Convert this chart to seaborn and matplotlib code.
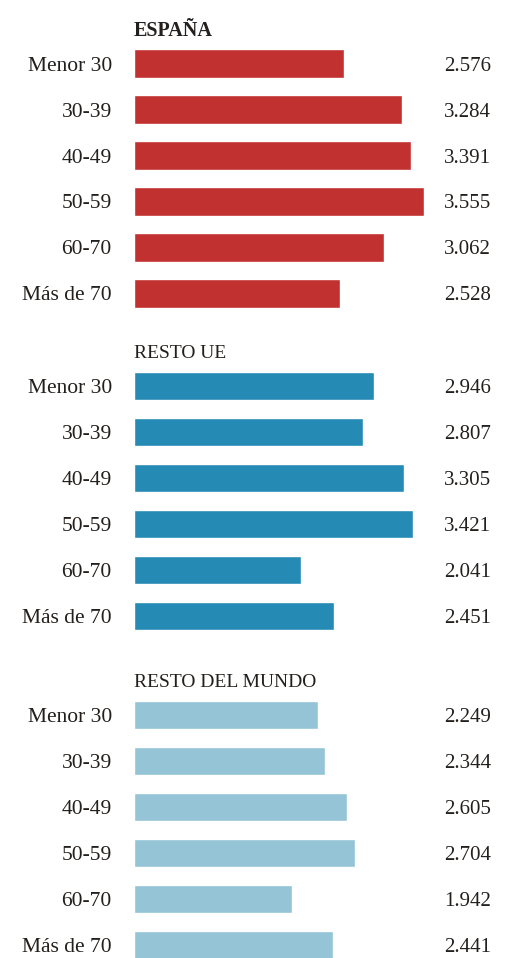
import matplotlib
matplotlib.use('Agg')
import matplotlib.pyplot as plt
import pandas as pd
import seaborn as sns

# Datos
edades = ['Menor 30', '30-39', '40-49', '50-59', '60-70', 'Más de 70']
espana = [2576, 3284, 3391, 3555, 3062, 2528]
resto_ue = [2946, 2807, 3305, 3421, 2041, 2451]
resto_mundo = [2249, 2344, 2605, 2704, 1942, 2441]
titulos = ['ESPAÑA', 'RESTO UE', 'RESTO DEL MUNDO']
colores = ['#c0312f', '#258ab4', '#94c4d5']

sns.set_style('white')
plt.rcParams['font.family'] = ['Liberation Serif', 'DejaVu Serif']
texto = '#231f1c'

W, H = 510, 958
fig = plt.figure(figsize=(W / 100, H / 100), dpi=100)

# caja de cada panel en pixeles (arriba, abajo); ancho comun
cajas = [(41, 316), (363, 639), (692, 968)]
x0, x1 = 134, 491
px_por_mil = 81.6

for serie, titulo, color, (top, bot) in zip([espana, resto_ue, resto_mundo], titulos, colores, cajas):
    ax = fig.add_axes([x0 / W, 1 - bot / H, (x1 - x0) / W, (bot - top) / H])
    df = pd.DataFrame({'edad': edades, 'valor': serie})
    sns.barplot(data=df, x='valor', y='edad', color=color, saturation=1,
                width=0.63, orient='h', ax=ax)
    ax.set_xlim(0, (x1 - x0) / px_por_mil * 1000)
    sns.despine(ax=ax, left=True, bottom=True)
    ax.set_xticks([])
    ax.set_xlabel('')
    ax.set_ylabel('')
    ax.tick_params(axis='y', length=0, pad=16, labelsize=15.5, labelcolor=texto)
    for lab in ax.get_yticklabels():
        lab.set_verticalalignment('center_baseline')
    for i, v in enumerate(serie):
        ax.text(1.0, i, f'{v:,}'.replace(',', '.'), transform=ax.get_yaxis_transform(),
                ha='right', va='center_baseline', fontsize=15, color=texto)
    es_bold = titulo == 'ESPAÑA'
    ax.set_title(titulo, loc='left', fontsize=14.5 if es_bold else 14, color=texto, pad=3.8,
                 fontweight='bold' if es_bold else 'normal')

fig.savefig('out.png', dpi=100)
